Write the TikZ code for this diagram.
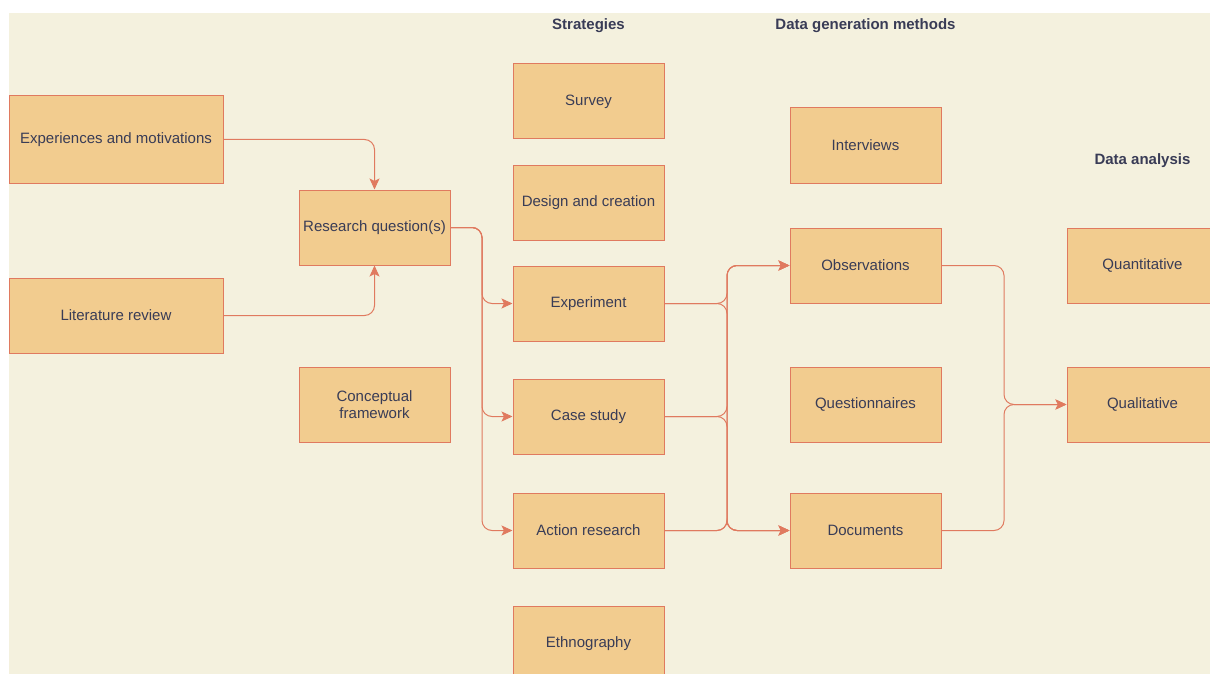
\documentclass[tikz,border=0pt]{standalone}
\usepackage{fontspec}
\setmainfont{Liberation Sans}
\usetikzlibrary{arrows.meta}
\definecolor{bgc}{HTML}{F4F1DE}
\definecolor{fillc}{HTML}{F2CC8F}
\definecolor{strokec}{HTML}{E07A5F}
\definecolor{fontc}{HTML}{393C56}
\tikzset{
  box/.style={draw=strokec, fill=fillc, line width=1pt, inner sep=2pt, align=center,
    text=fontc, font=\fontsize{15}{17}\selectfont, minimum width=151pt, minimum height=75pt},
  header/.style={text=fontc, font=\bfseries\fontsize{15}{17}\selectfont, inner sep=0pt},
  conn/.style={draw=strokec, line width=1pt, rounded corners=10pt, -{Stealth[length=11pt,width=10pt,inset=2.5pt]}}
}
\begin{document}
\begin{tikzpicture}[x=1pt,y=-1pt]
\useasboundingbox (0,0) rectangle (1210,674);
\clip (0,0) rectangle (1210,674);
\fill[bgc] (9,13) rectangle (1210,674);
% headers
\node[header] (hs) at (588.5,25.5) {Strategies};
\node[header] (hd) at (865.5,25.5) {Data generation methods};
\node[header] (ha) at (1142.5,160.5) {Data analysis};
% boxes
\node[box, minimum width=214pt, minimum height=88pt] (exp) at (116,139.5) {Experiences and motivations};
\node[box] (rq) at (374.5,227.5) {Research question(s)};
\node[box, minimum width=214pt] (lit) at (116,315.5) {Literature review};
\node[box] (conc) at (374.5,404.5) {Conceptual\\framework};
\node[box] (survey) at (588.5,101.5) {Survey};
\node[box] (design) at (588.5,202.5) {Design and creation};
\node[box] (exper) at (588.5,303.5) {Experiment};
\node[box] (case) at (588.5,416.5) {Case study};
\node[box] (action) at (588.5,530.5) {Action research};
\node[box] (ethno) at (588.5,643.5) {Ethnography};
\node[box] (interv) at (865.5,145.5) {Interviews};
\node[box] (obs) at (865.5,265.5) {Observations};
\node[box] (quest) at (865.5,404.5) {Questionnaires};
\node[box] (docs) at (865.5,530.5) {Documents};
\node[box] (quant) at (1142.5,265.5) {Quantitative};
\node[box] (qual) at (1142.5,404.5) {Qualitative};
% junction coordinates
\coordinate (j1) at (482,0);
\coordinate (j2) at (727,0);
\coordinate (j3) at (1004,0);
% connectors
\draw[conn] (exp.east) -| (rq.north);
\draw[conn] (lit.east) -| (rq.south);
\draw[conn] (rq.east) -- (rq.east -| j1) |- (exper.west);
\draw[conn] (rq.east) -- (rq.east -| j1) |- (case.west);
\draw[conn] (rq.east) -- (rq.east -| j1) |- (action.west);
\draw[conn] (exper.east) -- (exper.east -| j2) |- (obs.west);
\draw[conn] (exper.east) -- (exper.east -| j2) |- (docs.west);
\draw[conn] (case.east) -- (case.east -| j2) |- (obs.west);
\draw[conn] (case.east) -- (case.east -| j2) |- (docs.west);
\draw[conn] (action.east) -- (action.east -| j2) |- (obs.west);
\draw[conn] (action.east) -- (action.east -| j2) |- (docs.west);
\draw[conn] (obs.east) -- (obs.east -| j3) |- (qual.west);
\draw[conn] (docs.east) -- (docs.east -| j3) |- (qual.west);
\end{tikzpicture}
\end{document}
